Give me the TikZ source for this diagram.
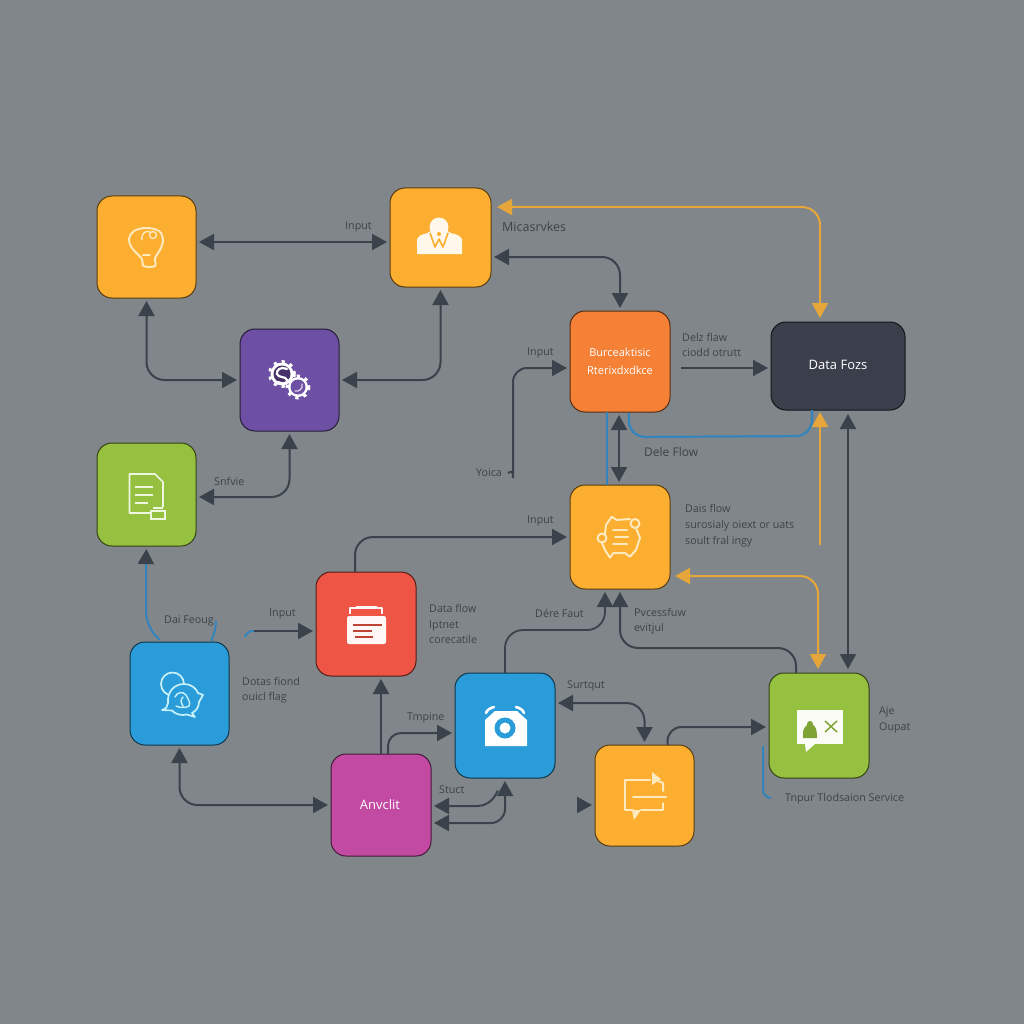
\documentclass[tikz,border=0pt]{standalone}
\usepackage{fontspec}
\setmainfont{Open Sans}
\usetikzlibrary{arrows.meta,calc}
\definecolor{bgc}{HTML}{80868A}
\definecolor{linec}{HTML}{3A424B}
\definecolor{labc}{HTML}{3C434A}
\definecolor{yel}{HTML}{FBAE2F}
\definecolor{pur}{HTML}{6D4FA3}
\definecolor{grn}{HTML}{96C03F}
\definecolor{org}{HTML}{F58136}
\definecolor{drk}{HTML}{3A3F4B}
\definecolor{red1}{HTML}{EF5544}
\definecolor{blu}{HTML}{2A9CD9}
\definecolor{mag}{HTML}{C24AA3}
\definecolor{bline}{HTML}{3384BC}
\definecolor{oline}{HTML}{E6A63A}
\definecolor{cream}{HTML}{FFE9BE}
\definecolor{cyn}{HTML}{C8F2FA}
\tikzset{
 x=1pt,y=-1pt,
 tile/.style={rounded corners=15pt,fill=#1,draw=black!65!#1,line width=1pt,minimum width=100pt,minimum height=102pt,inner sep=0pt,outer sep=0pt,text=white,align=center},
 lab/.style={anchor=west,inner sep=0pt,text=labc,align=left,font=\fontsize{10.7}{15.5}\selectfont},
 wtxt/.style={font=\fontsize{#1}{18}\selectfont},
 conn/.style={draw=linec,line width=2pt,rounded corners=18pt,shorten <=3pt,shorten >=3pt},
 oconn/.style={draw=oline,line width=2pt,rounded corners=18pt,shorten <=5pt,shorten >=4pt},
 bconn/.style={draw=bline,line width=2pt,rounded corners=16pt},
 ar/.style={-{Triangle[length=15pt,width=16pt]}},
 bi/.style={{Triangle[length=15pt,width=16pt]}-{Triangle[length=15pt,width=16pt]}},
 ra/.style={{Triangle[length=15pt,width=16pt]}-},
 oar/.style={-{Triangle[length=15pt,width=16pt,color=oline]}},
 obi/.style={{Triangle[length=15pt,width=16pt,color=oline]}-{Triangle[length=15pt,width=16pt,color=oline]}},
 icc/.style={draw=cream,line width=2pt,line join=round,line cap=round,fill=none},
}
\begin{document}
\begin{tikzpicture}
\useasboundingbox (0,0) rectangle (1024,1024);
\fill[bgc] (0,0) rectangle (1024,1024);
% tiles
\node[tile=yel,minimum width=99pt] (A) at (146.5,247) {};
\node[tile=yel,minimum width=101pt,minimum height=99pt] (B) at (440.5,237.5) {};
\node[tile=pur,minimum width=99pt] (C) at (289.5,380) {};
\node[tile=grn,minimum width=99pt,minimum height=103pt] (D) at (146.5,494.5) {};
\node[tile=org,minimum height=101pt] (E) at (620,361.5) {};
\node[tile=drk,minimum width=134pt,minimum height=88pt] (F) at (838,366) {};
\node[tile=yel,minimum height=104pt] (G) at (620,537) {};
\node[tile=red1,minimum height=104pt] (H) at (366,624) {};
\node[tile=blu,minimum width=99pt,minimum height=103pt] (I) at (179.5,693.5) {};
\node[tile=blu,minimum height=105pt] (J) at (505,725.5) {};
\node[tile=mag] (K) at (381,805) {};
\node[tile=yel,minimum width=99pt,minimum height=101pt] (L) at (644.5,795.5) {};
\node[tile=grn,minimum height=105pt] (M) at (819,725.5) {};
% tile texts
\node[text=white,align=center,font=\fontsize{11}{18}\selectfont] (Etxt) at (620,361) {Burceaktisic\\Rterixdxdkce};
\node[text=white,wtxt=13] (Ftxt) at (838,365) {Data Fozs};
\node[text=white,wtxt=13] (Ktxt) at (380,805) {Anvclit};
% dark connectors
\draw[conn,bi] ($(A.east)+(0,-5)$) -- ($(B.west)+(0,4.5)$);
\draw[conn,bi] (A.south) -- (A.south |- C.west) -- (C.west);
\draw[conn,bi] (B.south) -- (B.south |- C.east) -- (C.east);
\draw[conn,bi] (C.south) -- (C.south |- 0,497) -- (D.east |- 0,497);
\draw[conn,bi] (B.east |- 0,257) -- (E.north |- 0,257) -- (E.north);
\coordinate (yo) at (508,473);
\draw[conn,ar,rounded corners=14pt,shorten <=0pt] (yo) .. controls (511,472) and (513,469) .. (513,464) -- (513,368) -- (E.west |- 0,368);
\coordinate (ef) at (681,368);
\draw[conn,ar,shorten <=0pt] (ef) -- (F.west |- ef);
\draw[bconn] ($(E.south)+(-13,0)$) -- ($(G.north)+(-13,0)$);
\draw[conn,bi] ($(E.south)+(-1,0)$) -- ($(G.north)+(-1,0)$);
\draw[bconn,line width=2.2pt] ($(E.south)+(9,1)$) -- ($(E.south)+(9,25)$) -- (812,436) -- ($(F.south)+(-26,0)$);
\draw[conn,bi,shorten <=4pt,shorten >=4pt] ($(F.south)+(10,0)$) -- ($(M.north)+(29,0)$);
\draw[conn,ar,shorten <=0pt] ($(H.north)+(-11,0)$) -- ($(H.north)+(-11,-35)$) -- (G.west);
\draw[conn,ar,shorten <=0pt,line width=1.8pt] (J.north) -- (505,630) -- (605,630) -- ($(G.south)+(-15,0)$);
\draw[conn,ar,shorten <=0pt] ($(M.north)+(-23,0)$) -- ($(M.north)+(-23,-25)$) -- (620,648) -- (G.south);
\draw[conn,ar,shorten <=0pt] (K.north) -- ($(H.south)+(15,0)$);
\draw[conn,ar,shorten <=0pt,rounded corners=13pt] ($(K.north)+(7,0)$) -- ($(K.north)+(7,-21)$) -- (J.west |- 0,733);
\draw[conn,bi] (I.south) -- (I.south |- K.west) -- (K.west);
\draw[conn,ra,rounded corners=12pt] (K.east |- 0,806) -- (490,806) -- (499,788);
\draw[conn,bi,rounded corners=14pt] (K.east |- 0,823) -- (505,823) -- (J.south);
\draw[conn,bi] (J.east |- 0,703) -- (L.north |- 0,703) -- (L.north);
\draw[conn,ar,shorten <=0pt,rounded corners=14pt] ($(L.north)+(23,0)$) -- ($(L.north)+(23,-18)$) -- (M.west |- 0,727);
\coordinate (lone) at (577,805);
\draw[conn,ar,shorten <=0pt] (lone) -- (L.west |- lone);
% orange connectors
\draw[oconn,obi,shorten <=6pt] (B.east |- 0,207) -- (820,207) -- (820,322);
\coordinate (oup) at (820,545);
\draw[oconn,oar,shorten <=0pt,shorten >=2pt] (oup) -- (F.south -| oup);
\draw[oconn,obi] (G.east |- 0,576) -- (818,576) -- (818,673);
% blue bits
\draw[bconn,rounded corners=14pt] (160,640) -- (146,626) -- (146,560);
\draw[conn,ar,shorten <=0pt] (146,560) -- (D.south);
\draw[bconn,rounded corners=6pt] (211,641) -- (215,632) -- (216,621);
\coordinate (inp) at (254,631);
\draw[bconn,rounded corners=4pt] (245,637) -- (248,631) -- (inp);
\draw[conn,ar,shorten <=0pt] (inp) -- (H.west |- inp);
\draw[bconn,rounded corners=7pt] (763,746) -- (763,797) -- (771,798);
% labels
\node[lab] (l1) at (345,227) {Input};
\node[lab,font=\fontsize{12.5}{15}\selectfont] (l2) at (502,227) {Micasrvkes};
\node[lab] (l3) at (682,345) {Delz flaw\\ciodd otrutt};
\node[lab] (l4) at (527,353) {Input};
\node[lab] (l5) at (476,473) {Yoica};
\node[lab,font=\fontsize{12}{15}\selectfont] (l6) at (644,452) {Dele Flow};
\node[lab,font=\fontsize{10.7}{16}\selectfont] (l7) at (685,526) {Dais flow\\surosialy oiext or uats\\soult fral ingy};
\node[lab] (l8) at (527,521) {Input};
\node[lab] (l9) at (214,481) {Snfvie};
\node[lab] (l10) at (164,621) {Dai Feoug};
\node[lab] (l11) at (269,614) {Input};
\node[lab] (l12) at (429,624) {Data flow\\Iptnet\\corecatile};
\node[lab] (l13) at (242,690) {Dotas fiond\\ouicl flag};
\node[lab] (l14) at (535,613) {Dére Faut};
\node[lab] (l15) at (634,621) {Pvcessfuw\\evitjul};
\node[lab] (l16) at (567,686) {Surtqut};
\node[lab] (l17) at (407,718) {Tmpine};
\node[lab] (l18) at (439,790) {Stuct};
\node[lab] (l19) at (879,720) {Aje\\Oupat};
\node[lab] (l20) at (785,799) {Tnpur Tlodsaion Service};
% icon A: head-bulb
\draw[icc] plot[smooth cycle,tension=.6] coordinates {(143.5,266) (142,259) (132,248) (129,239) (134,231) (146,228) (159,231) (163,240) (160,250) (155,258) (155,266)};
\draw[icc,line width=1.4pt] (142,240) .. controls (141,233) and (146,230) .. (150,232);
\draw[icc,line width=1.4pt] (153,235) circle (3.5);
\draw[icc,line width=1.4pt] (143,255) -- (150,255);
% icon B: person
\fill[white!90!yel] (417,254) -- (417,239) .. controls (420,233) and (426,235) .. (431,231) -- (447,231) .. controls (452,235) and (459,233) .. (462,239) -- (462,254) -- cycle;
\fill[white!90!yel] (439,227) circle (9.5);
\draw[yel,line width=1.6pt,line join=round] (430,233) -- (435,247) -- (439,239) -- (443,247) -- (448,233);
\fill[yel] (439,234) circle (2);
% icon C: gears
\draw[white,line width=4pt,dash pattern=on 3pt off 5pt] (282,374) circle (12);
\fill[white] (282,374) circle (11.5);
\draw[white,line width=4pt,dash pattern=on 3pt off 5pt] (298,387) circle (10.5);
\fill[white] (298,387) circle (10);
\fill[black!35!pur] (282,374) circle (8.5);
\fill[pur] (298,387) circle (7.5);
\draw[white,line width=2.2pt,line cap=round] (287,369) .. controls (281,366) and (276,370) .. (277,374) .. controls (278,378) and (286,376) .. (287,380) .. controls (288,384) and (282,384) .. (278,382);
\draw[white!75!pur,line width=1.3pt,line cap=round] (302,384) .. controls (303,389) and (299,392) .. (295,391);
% icon D: document
\draw[draw=white!85!grn,line width=1.6pt,line join=round] (163,507) -- (163,482) -- (155,474) -- (129.5,474) -- (129.5,513) -- (151,513);
\draw[draw=white!85!grn,line width=1.6pt] (135,487) -- (153,487) (135,495) -- (153,495) (135,503) -- (148,503);
\draw[draw=white!85!grn,line width=1.4pt,fill=grn] (151,511) rectangle (165,519);
\draw[draw=white!85!grn,line width=1.2pt] (153,508) -- (163,508);
% icon G
\draw[icc] (605,533.5) -- (606,525) -- (611.7,516.7) -- (616.7,520) -- (630,519);
\draw[icc] (636,528) -- (640,538) -- (636,550) -- (630,556.7) -- (625,553) -- (613.3,553) -- (610,557.7) -- (605,550) -- (602,543);
\draw[icc] (602,538) circle (4.5);
\draw[icc] (635,523.5) circle (4.5);
\draw[icc] (613,530) -- (627,530) (615,537) -- (628,537) (613,544) -- (627,544);
% icon H: clipboard
\fill[white!95!red1,rounded corners=2pt] (347,616) rectangle (386,644);
\draw[draw=white!95!red1,line width=1.6pt,line join=round] (350,614) -- (350,608) -- (382,608) -- (382,614);
\draw[draw=white!95!red1,line width=2pt] (356,606.5) -- (377,606.5);
\draw[red1!80!black,line width=1.5pt] (353,625) -- (382,625) (353,631) -- (372,631) (355,637) -- (373,637);
% icon I: bubbles
\draw[draw=cyn,line width=1.7pt] (172.5,684) circle (11.5);
\fill[blu] (183,699) circle (15);
\draw[draw=cyn,line width=1.7pt,line join=round] (168,703) .. controls (167,692) and (174,684) .. (184,684) .. controls (191,684) and (196,688) .. (198,693) -- (203,695) -- (199,702) .. controls (199,707) and (196,711) .. (192,713) -- (195,717) -- (187,714.5) .. controls (181,716) and (175,714) .. (172,710.5) -- (162,710) .. controls (166,709) and (168,706) .. (168,703) -- cycle;
\draw[draw=cyn,line width=1.4pt,line cap=round] (175,697) .. controls (177,692) and (183,691) .. (186,695) .. controls (188,699) and (191,703) .. (189,706) (176,706) .. controls (180,708) and (186,708) .. (189,706) (183,697) .. controls (180,700) and (181,703) .. (183,706);
% icon J: camera
\fill[white] (485,746) -- (485,720) -- (495,711) -- (517,711) -- (527,720) -- (527,746) -- cycle;
\fill[blu] (505,728) circle (10.5);
\fill[white] (505,728) circle (5.5);
\draw[white,line width=2.6pt,line cap=round] (486,713) .. controls (487,710) and (490,708) .. (494,707);
\draw[white,line width=2.6pt,line cap=round] (524,713) .. controls (523,710) and (520,708) .. (516,707);
% icon L: exchange
\draw[icc] (650,780) -- (625,780) -- (625,810) -- (633,810);
\draw[icc] (641,810) -- (663,810) -- (663,803);
\draw[icc] (663,791) -- (663,783) -- (658,781);
\draw[icc] (633,797) -- (666,797);
\fill[cream] (652,772) -- (661,779) -- (652,785) -- cycle;
\fill[cream] (632,810) -- (641,810) -- (634,820) -- cycle;
% icon M: message
\fill[white!95!grn] (797,710) rectangle (843,744);
\fill[white!95!grn] (805,744) -- (815,744) -- (806,752) -- cycle;
\fill[grn!85!black] (803,738) -- (803,732) .. controls (804,727) and (806,726) .. (807,725) -- (807,724) .. controls (807,720) and (813,720) .. (813,724) -- (813,725) .. controls (815,726) and (817,728) .. (817,738) -- cycle;
\draw[grn!85!black,line width=1.5pt] (825,721) -- (837,732) (837,721) -- (825,732);
\end{tikzpicture}
\end{document}
